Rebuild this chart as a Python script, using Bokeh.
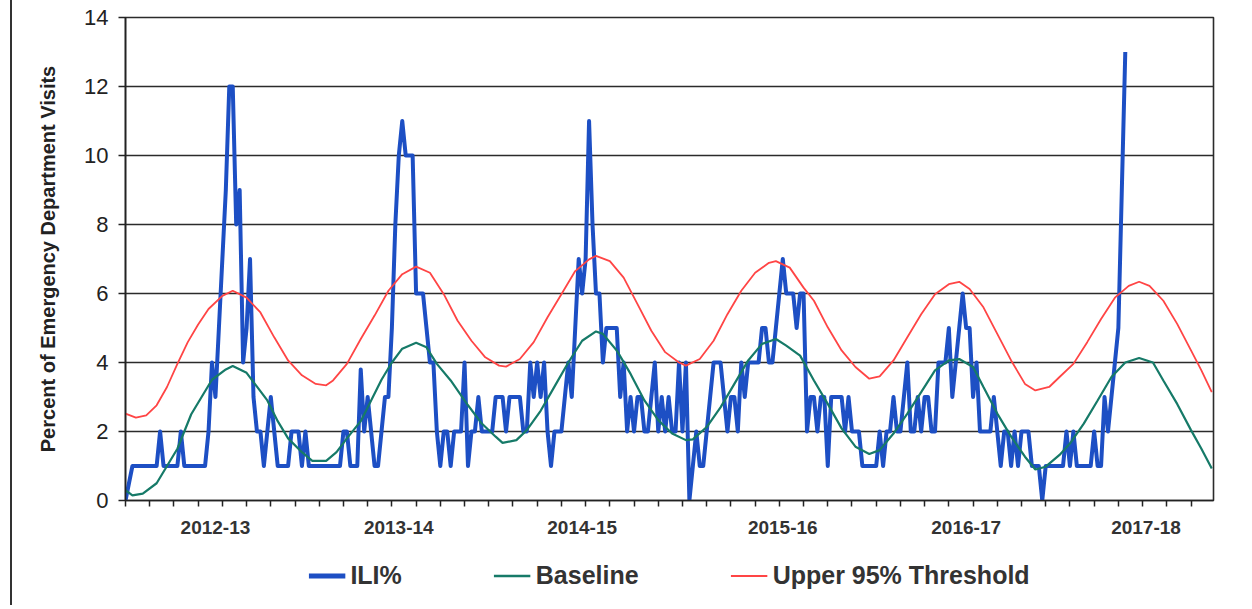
from bokeh.plotting import figure
from bokeh.layouts import column
from bokeh.models import FixedTicker, Legend, LegendItem, Range1d
from bokeh.embed import file_html
from bokeh.resources import INLINE

# ---- data (week index from start of 2012-13 surveillance year) ----
ili_pct = [
    0, 0.5, 1, 1, 1, 1, 1, 1, 1, 1, 2, 1, 1, 1, 1, 1, 2, 1, 1, 1,
    1, 1, 1, 1, 2, 4, 3, 5, 7, 9, 12, 12, 8, 9, 4, 5, 7, 3, 2, 2,
    1, 2, 3, 2, 1, 1, 1, 1, 2, 2, 2, 1, 2, 1, 1, 1, 1, 1, 1, 1,
    1, 1, 1, 2, 2, 1, 1, 1, 3.8, 2, 3, 2, 1, 1, 2, 3, 3, 5, 8, 10,
    11, 10, 10, 10, 6, 6, 6, 5, 4, 4, 2, 1, 2, 2, 1, 2, 2, 2, 4, 1,
    2, 2, 3, 2, 2, 2, 2, 3, 3, 3, 2, 3, 3, 3, 3, 2, 2, 4, 3, 4,
    3, 4, 2, 1, 2, 2, 2, 3, 4, 3, 5, 7, 6, 7, 11, 8, 6, 6, 4, 5,
    5, 5, 5, 3, 4, 2, 3, 2, 3, 3, 2, 2, 3, 4, 2, 3, 2, 3, 2, 2,
    4, 2, 4, 0, 1, 2, 1, 1, 2, 3, 4, 4, 4, 3, 2, 3, 3, 2, 4, 3,
    4, 4, 4, 4, 5, 5, 4, 4, 5, 6, 7, 6, 6, 6, 5, 6, 6, 2, 3, 3,
    2, 3, 3, 1, 3, 3, 3, 3, 2, 3, 2, 2, 2, 1, 1, 1, 1, 1, 2, 1,
    2, 2, 3, 2, 2, 3, 4, 2, 2, 3, 2, 3, 3, 2, 2, 4, 4, 4, 5, 3,
    4, 5, 6, 5, 5, 3, 4, 2, 2, 2, 2, 3, 2, 1, 2, 2, 1, 2, 1, 2,
    2, 2, 1, 1, 1, 0, 1, 1, 1, 1, 1, 1, 2, 1, 2, 1, 1, 1, 1, 1,
    2, 1, 1, 3, 2, 3, 4, 5, 9, 13,
]
ili_week = list(range(len(ili_pct)))

baseline_week = [0, 2, 5, 9, 12, 15, 17, 19, 22, 25, 29, 31, 35, 38, 41, 44, 47, 51, 54, 58,
                 61, 64, 68, 71, 74, 77, 80, 84, 87, 90, 94, 99, 103, 107, 109, 113, 116, 120, 124, 128,
                 132, 136, 138, 142, 146, 150, 154, 158, 162, 164, 168, 172, 176, 180, 184, 188, 191, 195, 199, 203,
                 207, 211, 215, 218, 222, 226, 230, 234, 238, 241, 245, 248, 252, 256, 260, 263, 266, 270, 273, 277,
                 281, 285, 289, 293, 297, 300, 304, 308, 311, 314]
baseline_pct = [0.3, 0.15, 0.2, 0.5, 1.0, 1.5, 2.0, 2.5, 3.0, 3.5, 3.8, 3.9, 3.7, 3.3, 2.9, 2.3, 1.8, 1.4, 1.15, 1.15,
                1.4, 1.8, 2.3, 2.9, 3.5, 4.0, 4.4, 4.57, 4.44, 3.96, 3.48, 2.76, 2.23, 1.85, 1.67, 1.75, 2.04, 2.6, 3.3, 4.0,
                4.63, 4.9, 4.83, 4.35, 3.67, 2.9, 2.33, 1.94, 1.75, 1.77, 2.13, 2.7, 3.38, 4.06, 4.54, 4.68, 4.49, 4.2, 3.48, 2.8,
                2.09, 1.56, 1.35, 1.46, 1.94, 2.52, 3.14, 3.77, 4.06, 4.1, 3.87, 3.29, 2.52, 1.85, 1.27, 0.9, 0.98, 1.32, 1.65, 2.23,
                2.9, 3.58, 4.0, 4.13, 4.0, 3.48, 2.8, 2.04, 1.5, 0.93]

threshold_week = [0, 3, 6, 9, 12, 15, 18, 21, 24, 28, 31, 35, 39, 43, 47, 51, 55, 58, 60, 64,
                  68, 72, 76, 80, 84, 88, 92, 96, 100, 104, 108, 110, 114, 118, 122, 126, 130, 134, 136, 140,
                  144, 148, 152, 156, 160, 162, 166, 170, 174, 178, 182, 186, 188, 192, 196, 199, 203, 207, 211, 215,
                  218, 222, 226, 230, 234, 238, 241, 244, 248, 252, 256, 260, 263, 267, 270, 274, 278, 282, 286, 290,
                  293, 296, 300, 304, 308, 311, 314]
threshold_pct = [2.52, 2.4, 2.47, 2.76, 3.29, 3.96, 4.59, 5.1, 5.55, 5.93, 6.08, 5.88, 5.45, 4.73, 4.06, 3.63, 3.38, 3.34, 3.48, 3.96,
                 4.68, 5.36, 6.08, 6.56, 6.78, 6.6, 5.98, 5.21, 4.63, 4.15, 3.91, 3.88, 4.1, 4.59, 5.31, 5.98, 6.65, 6.99, 7.09, 6.94,
                 6.46, 5.69, 4.92, 4.3, 4.0, 3.91, 4.1, 4.63, 5.4, 6.08, 6.6, 6.89, 6.94, 6.75, 6.17, 5.79, 5.02, 4.35, 3.87, 3.53,
                 3.6, 4.06, 4.73, 5.4, 5.98, 6.27, 6.34, 6.13, 5.6, 4.83, 4.06, 3.38, 3.19, 3.29, 3.58, 3.96, 4.59, 5.26, 5.88, 6.22,
                 6.34, 6.22, 5.79, 5.12, 4.35, 3.77, 3.14]

season_labels = ["2012-13", "2013-14", "2014-15", "2015-16", "2016-17", "2017-18"]
season_label_week = [26, 79, 132, 190, 243, 295]
y_ticks = [0, 2, 4, 6, 8, 10, 12, 14]

ILI_COLOR = "#1d4fc4"
BASE_COLOR = "#167a68"
THR_COLOR = "#ff4545"

# ---- main figure ----
p = figure(width=1240, height=545, x_range=Range1d(0, 314.5), y_range=Range1d(0, 14),
           output_backend="svg", toolbar_location=None,
           min_border_left=113, min_border_right=39, min_border_top=17, min_border_bottom=45)
p.background_fill_color = "white"
p.border_fill_color = "white"
p.outline_line_color = "#2b2b2b"
p.outline_line_width = 1.6

p.xgrid.visible = False
p.ygrid.grid_line_color = "#2b2b2b"
p.ygrid.grid_line_width = 1.6

p.line(ili_week, ili_pct, line_color=ILI_COLOR, line_width=4, line_join="round")
p.line(baseline_week, baseline_pct, line_color=BASE_COLOR, line_width=2.2)
p.line(threshold_week, threshold_pct, line_color=THR_COLOR, line_width=1.8)

# y axis
yax = p.yaxis[0]
yax.ticker = FixedTicker(ticks=y_ticks)
yax.minor_tick_line_color = None
yax.major_tick_out = 7
yax.major_tick_in = 0
yax.major_tick_line_color = "#222222"
yax.major_tick_line_width = 1.5
yax.axis_line_color = "#222222"
yax.axis_line_width = 1.6
yax.major_label_text_font = "Liberation Sans"
yax.major_label_text_font_size = "22px"
yax.major_label_text_color = "#222222"
yax.major_label_standoff = 10
yax.axis_label = "Percent of Emergency Department Visits"
yax.axis_label_text_font = "Liberation Sans"
yax.axis_label_text_font_style = "bold"
yax.axis_label_text_font_size = "20px"
yax.axis_label_text_color = "#222222"
yax.axis_label_standoff = 22

# x axis
xax = p.xaxis[0]
xax.ticker = FixedTicker(ticks=season_label_week, minor_ticks=list(range(0, 315, 7)))
xax.major_label_overrides = {w: s for w, s in zip(season_label_week, season_labels)}
xax.major_tick_line_color = None
xax.major_tick_out = 0
xax.major_tick_in = 0
xax.minor_tick_out = 6
xax.minor_tick_in = 0
xax.minor_tick_line_color = "#222222"
xax.minor_tick_line_width = 1.5
xax.axis_line_color = "#222222"
xax.axis_line_width = 1.6
xax.major_label_text_font = "Liberation Sans"
xax.major_label_text_font_style = "bold"
xax.major_label_text_font_size = "19px"
xax.major_label_text_color = "#333333"
xax.major_label_standoff = 14

# ---- legend strip ----
pl = figure(width=1240, height=60, x_range=Range1d(0, 1), y_range=Range1d(0, 1),
            output_backend="svg", toolbar_location=None,
            x_axis_type=None, y_axis_type=None,
            min_border_left=59, min_border_right=0, min_border_top=0, min_border_bottom=0)
pl.outline_line_color = None
pl.xgrid.visible = False
pl.ygrid.visible = False
pl.background_fill_color = "white"
pl.border_fill_color = "white"
# legend-only renderers: their data lie outside the visible range
l_ili = pl.line([-3, -2], [-3, -2], line_color=ILI_COLOR, line_width=5)
l_base = pl.line([-3, -2], [-3, -2], line_color=BASE_COLOR, line_width=2.5)
l_thr = pl.line([-3, -2], [-3, -2], line_color=THR_COLOR, line_width=2)

legend = Legend(items=[LegendItem(label="ILI%", renderers=[l_ili]),
                       LegendItem(label="Baseline", renderers=[l_base]),
                       LegendItem(label="Upper 95% Threshold", renderers=[l_thr])],
                orientation="horizontal", location="center")
legend.label_text_font = "Liberation Sans"
legend.label_text_font_style = "bold"
legend.label_text_font_size = "25px"
legend.label_text_color = "#333333"
legend.glyph_width = 37
legend.glyph_height = 20
legend.label_standoff = 5
legend.spacing = 92
legend.padding = 4
legend.margin = 0
legend.border_line_color = None
legend.background_fill_alpha = 0
pl.add_layout(legend, "center")

layout = column(p, pl, spacing=0,
                styles={"border-left": "2px solid #333333", "margin-left": "10px"})

open("out.html", "w").write(file_html(layout, INLINE))
